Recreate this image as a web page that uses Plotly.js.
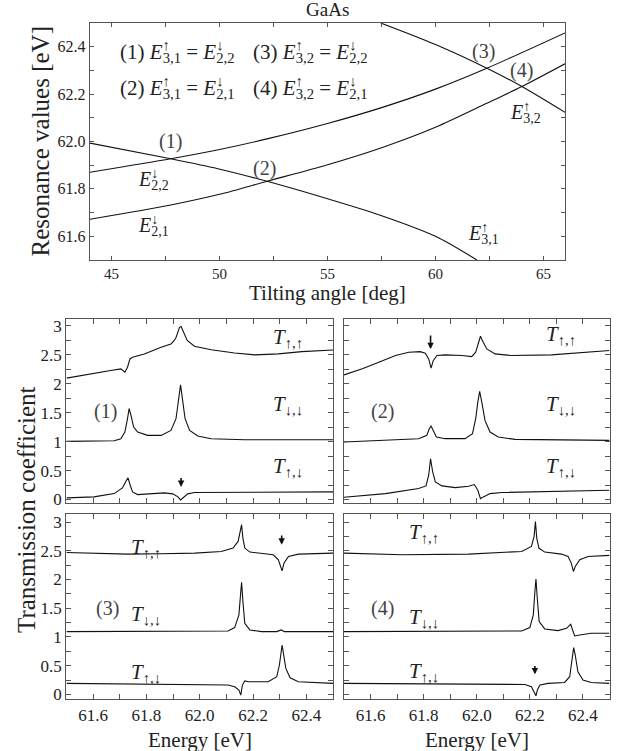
<!DOCTYPE html>
<html>
<head>
<meta charset="utf-8">
<script src="https://cdn.plot.ly/plotly-3.0.1.min.js"></script>
<style>html,body{margin:0;padding:0;background:#fff;}#chart{width:629px;height:751px;}</style>
</head>
<body>
<div id="chart"></div>
<script>
// ---------- Top plot: resonance values vs tilting angle ----------
const angle_E31 = [44, 47.74, 49.92, 52.2, 55.08, 57.54, 60, 61.92];
const res_E31   = [61.993, 61.927, 61.885, 61.832, 61.756, 61.686, 61.6, 61.5];
const angle_E22 = [44, 47.74, 50, 52.2, 55, 57.54, 60, 62.38, 66];
const res_E22   = [61.870, 61.927, 61.966, 62.011, 62.076, 62.144, 62.221, 62.309, 62.458];
const angle_E21 = [44, 47.74, 50, 52.2, 55, 57.54, 60, 62.35, 64, 66];
const res_E21   = [61.672, 61.732, 61.777, 61.832, 61.902, 61.975, 62.06, 62.16, 62.232, 62.328];
const angle_E32 = [57.46, 60, 62.38, 64, 66];
const res_E32   = [62.5, 62.409, 62.309, 62.232, 62.123];

// ---------- Panel (1) ----------
const p1_E_uu = [61.5, 61.603, 61.666, 61.704, 61.719, 61.729, 61.738, 61.748, 61.792, 61.855, 61.892, 61.903, 61.911, 61.917, 61.924, 61.93, 61.939, 61.953, 61.98, 62.043, 62.131, 62.207, 62.295, 62.383, 62.5];
const p1_T_uu = [2.098, 2.172, 2.23, 2.259, 2.20, 2.287, 2.43, 2.46, 2.517, 2.632, 2.69, 2.74, 2.80, 2.88, 2.977, 2.99, 2.89, 2.75, 2.65, 2.59, 2.534, 2.50, 2.517, 2.557, 2.586];
const p1_E_dd = [61.5, 61.603, 61.679, 61.704, 61.719, 61.729, 61.735, 61.742, 61.752, 61.767, 61.804, 61.855, 61.892, 61.911, 61.92, 61.928, 61.935, 61.945, 61.962, 61.993, 62.043, 62.169, 62.5];
const p1_T_dd = [1.006, 1.006, 1.017, 1.05, 1.167, 1.40, 1.57, 1.454, 1.253, 1.167, 1.109, 1.109, 1.195, 1.397, 1.741, 1.983, 1.741, 1.397, 1.195, 1.098, 1.052, 1.034, 1.034];
const p1_E_ud = [61.5, 61.603, 61.679, 61.71, 61.723, 61.731, 61.739, 61.748, 61.767, 61.817, 61.867, 61.899, 61.918, 61.928, 61.938, 61.955, 61.98, 62.106, 62.5];
const p1_T_ud = [0.029, 0.046, 0.103, 0.20, 0.316, 0.374, 0.247, 0.132, 0.086, 0.103, 0.115, 0.098, 0.046, -0.006, 0.034, 0.098, 0.121, 0.126, 0.132];

// ---------- Panel (2) ----------
const p2_E_uu = [61.5, 61.569, 61.631, 61.694, 61.744, 61.787, 61.806, 61.819, 61.828, 61.836, 61.85, 61.881, 61.944, 61.981, 61.996, 62.006, 62.014, 62.021, 62.038, 62.069, 62.131, 62.281, 62.5];
const p2_T_uu = [2.155, 2.259, 2.374, 2.489, 2.546, 2.557, 2.529, 2.431, 2.27, 2.40, 2.489, 2.50, 2.489, 2.471, 2.546, 2.718, 2.822, 2.747, 2.603, 2.517, 2.489, 2.50, 2.575];
const p2_E_dd = [61.5, 61.656, 61.781, 61.812, 61.821, 61.828, 61.835, 61.848, 61.881, 61.956, 61.984, 61.996, 62.004, 62.011, 62.019, 62.031, 62.05, 62.081, 62.144, 62.5];
const p2_T_dd = [0.994, 1.023, 1.052, 1.109, 1.224, 1.27, 1.195, 1.08, 1.052, 1.052, 1.138, 1.397, 1.684, 1.868, 1.684, 1.368, 1.167, 1.08, 1.04, 1.023];
const p2_E_ud = [61.5, 61.656, 61.781, 61.809, 61.819, 61.826, 61.834, 61.844, 61.869, 61.919, 61.969, 61.991, 62.004, 62.014, 62.025, 62.05, 62.094, 62.5];
const p2_T_ud = [0.04, 0.103, 0.19, 0.236, 0.42, 0.705, 0.477, 0.305, 0.236, 0.207, 0.23, 0.259, 0.161, 0.017, 0.046, 0.103, 0.121, 0.161];

// ---------- Panel (3) ----------
const p3_E_uu = [61.5, 61.603, 61.729, 61.855, 61.981, 62.081, 62.125, 62.144, 62.153, 62.157, 62.162, 62.169, 62.188, 62.232, 62.276, 62.295, 62.304, 62.309, 62.316, 62.333, 62.37, 62.5];
const p3_T_uu = [2.471, 2.459, 2.442, 2.448, 2.459, 2.488, 2.547, 2.663, 2.837, 2.953, 2.72, 2.547, 2.477, 2.459, 2.43, 2.343, 2.198, 2.151, 2.285, 2.401, 2.442, 2.459];
const p3_E_dd = [61.5, 61.981, 62.106, 62.131, 62.147, 62.153, 62.157, 62.162, 62.169, 62.188, 62.232, 62.289, 62.306, 62.318, 62.5];
const p3_T_dd = [1.093, 1.093, 1.105, 1.163, 1.384, 1.733, 1.953, 1.616, 1.238, 1.122, 1.093, 1.093, 1.122, 1.093, 1.093];
const p3_E_ud = [61.5, 61.855, 62.043, 62.106, 62.131, 62.147, 62.154, 62.16, 62.169, 62.182, 62.257, 62.289, 62.299, 62.306, 62.309, 62.314, 62.323, 62.339, 62.37, 62.5];
const p3_T_ud = [0.192, 0.18, 0.174, 0.163, 0.134, 0.076, -0.012, 0.163, 0.235, 0.221, 0.221, 0.308, 0.512, 0.802, 0.86, 0.715, 0.453, 0.29, 0.221, 0.192];

// ---------- Panel (4) ----------
const p4_E_uu = [61.5, 61.719, 61.969, 62.169, 62.206, 62.216, 62.221, 62.226, 62.234, 62.256, 62.319, 62.344, 62.356, 62.364, 62.371, 62.388, 62.419, 62.5];
const p4_T_uu = [2.459, 2.43, 2.442, 2.488, 2.576, 2.75, 3.01, 2.72, 2.547, 2.477, 2.442, 2.40, 2.285, 2.14, 2.227, 2.343, 2.40, 2.419];
const p4_E_dd = [61.5, 61.969, 62.169, 62.2, 62.213, 62.219, 62.223, 62.228, 62.235, 62.256, 62.306, 62.338, 62.354, 62.361, 62.369, 62.388, 62.431, 62.5];
const p4_T_dd = [1.093, 1.093, 1.105, 1.163, 1.384, 1.791, 2.01, 1.674, 1.267, 1.14, 1.11, 1.151, 1.221, 1.122, 1.017, 1.035, 1.064, 1.064];
const p4_E_ud = [61.5, 61.969, 62.181, 62.206, 62.216, 62.223, 62.229, 62.238, 62.269, 62.331, 62.35, 62.359, 62.365, 62.371, 62.381, 62.4, 62.431, 62.5];
const p4_T_ud = [0.192, 0.18, 0.174, 0.134, 0.047, -0.023, 0.087, 0.163, 0.192, 0.209, 0.308, 0.57, 0.814, 0.686, 0.395, 0.25, 0.209, 0.192];

// ---------- Tick values and labels ----------
const angleTickVals = [45, 47.5, 50, 52.5, 55, 57.5, 60, 62.5, 65];
const angleTickText = ['45', '', '50', '', '55', '', '60', '', '65'];
const resTickVals = [61.6, 61.7, 61.8, 61.9, 62.0, 62.1, 62.2, 62.3, 62.4];
const resTickText = ['61.6', '', '61.8', '', '62.0', '', '62.2', '', '62.4'];
const energyTickVals = [61.6, 61.7, 61.8, 61.9, 62.0, 62.1, 62.2, 62.3, 62.4];
const energyTickText = ['61.6', '', '61.8', '', '62.0', '', '62.2', '', '62.4'];
const transTickVals = [0, 0.25, 0.5, 0.75, 1, 1.25, 1.5, 1.75, 2, 2.25, 2.5, 2.75, 3];
const transTickText = ['0', '', '0.5', '', '1', '', '1.5', '', '2', '', '2.5', '', '3'];

const FONT = 'Liberation Serif';
const LINE = {color: '#111', width: 1.1};
const AX = '#555';

function tr(x, y, xa, ya, smooth) {
  const line = Object.assign({}, LINE);
  if (smooth) { line.shape = 'spline'; line.smoothing = 0.8; }
  return {x: x, y: y, xaxis: xa, yaxis: ya, type: 'scatter', mode: 'lines', line: line, hoverinfo: 'skip', showlegend: false};
}

const data = [
  tr(angle_E31, res_E31, 'x', 'y', true),
  tr(angle_E22, res_E22, 'x', 'y', true),
  tr(angle_E21, res_E21, 'x', 'y', true),
  tr(angle_E32, res_E32, 'x', 'y', true),
  tr(p1_E_uu, p1_T_uu, 'x2', 'y2'), tr(p1_E_dd, p1_T_dd, 'x2', 'y2'), tr(p1_E_ud, p1_T_ud, 'x2', 'y2'),
  tr(p2_E_uu, p2_T_uu, 'x3', 'y3'), tr(p2_E_dd, p2_T_dd, 'x3', 'y3'), tr(p2_E_ud, p2_T_ud, 'x3', 'y3'),
  tr(p3_E_uu, p3_T_uu, 'x4', 'y4'), tr(p3_E_dd, p3_T_dd, 'x4', 'y4'), tr(p3_E_ud, p3_T_ud, 'x4', 'y4'),
  tr(p4_E_uu, p4_T_uu, 'x5', 'y5'), tr(p4_E_dd, p4_T_dd, 'x5', 'y5'), tr(p4_E_ud, p4_T_ud, 'x5', 'y5')
];

function axis(extra) {
  return Object.assign({
    showline: true, mirror: 'allticks', linecolor: AX, linewidth: 1.3,
    ticks: 'inside', ticklen: 5, tickwidth: 1, tickcolor: AX,
    showgrid: false, zeroline: false, fixedrange: true,
    tickfont: {family: FONT, size: 17, color: '#222'}
  }, extra);
}

const L = [0.1057, 0.5294], R = [0.5469, 0.9690];
const U = [0.3302, 0.5752], D = [0.0692, 0.3156];

const layout = {
  width: 629, height: 751,
  margin: {l: 0, r: 0, t: 0, b: 0},
  paper_bgcolor: '#fff', plot_bgcolor: '#fff',
  showlegend: false,
  font: {family: FONT, color: '#222'},
  xaxis: axis({domain: [0.1431, 0.8983], range: [44, 66], anchor: 'y', tickvals: angleTickVals, ticktext: angleTickText, ticklen: 4, tickfont: {family: FONT, size: 15, color: '#222'}}),
  yaxis: axis({domain: [0.6538, 0.9694], range: [61.5, 62.5], anchor: 'x', tickvals: resTickVals, ticktext: resTickText, ticklen: 4, tickfont: {family: FONT, size: 16, color: '#222'}}),
  xaxis2: axis({domain: L, range: [61.5, 62.5], anchor: 'y2', tickvals: energyTickVals, ticktext: energyTickText, showticklabels: false}),
  yaxis2: axis({domain: U, range: [-0.06, 3.12], anchor: 'x2', tickvals: transTickVals, ticktext: transTickText}),
  xaxis3: axis({domain: R, range: [61.5, 62.5], anchor: 'y3', tickvals: energyTickVals, ticktext: energyTickText, showticklabels: false}),
  yaxis3: axis({domain: U, range: [-0.06, 3.12], anchor: 'x3', tickvals: transTickVals, ticktext: transTickText, showticklabels: false}),
  xaxis4: axis({domain: L, range: [61.5, 62.5], anchor: 'y4', tickvals: energyTickVals, ticktext: energyTickText}),
  yaxis4: axis({domain: D, range: [-0.08, 3.14], anchor: 'x4', tickvals: transTickVals, ticktext: transTickText}),
  xaxis5: axis({domain: R, range: [61.5, 62.5], anchor: 'y5', tickvals: energyTickVals, ticktext: energyTickText}),
  yaxis5: axis({domain: D, range: [-0.08, 3.14], anchor: 'x5', tickvals: transTickVals, ticktext: transTickText, showticklabels: false}),
  annotations: []
};

const A = layout.annotations;
function txt(text, x, y, xref, yref, size, extra) {
  A.push(Object.assign({text: text, x: x, y: y, xref: xref, yref: yref, showarrow: false,
    font: {family: FONT, size: size, color: '#222'}, xanchor: 'center', yanchor: 'middle'}, extra || {}));
}
function arrow(x, tip, tail, xr, yr) {
  A.push({text: '', x: x, y: tip, ax: x, ay: tail, xref: xr, yref: yr, axref: xr, ayref: yr,
    showarrow: true, arrowhead: 2, arrowsize: 0.8, arrowwidth: 1.6, arrowcolor: '#111', standoff: 0, startstandoff: 0});
}
// E with stacked spin arrow (superscript) and index pair (subscript)
function Esym(spin, idx, size) {
  const back = (0.7 * size * 0.5).toFixed(1);
  return '<i>E</i><sup><span style="letter-spacing:-' + back + 'px">' + spin + '</span></sup><sub>' + idx + '</sub>';
}

// titles
txt('GaAs', 0.5207, 0.9867, 'paper', 'paper', 19);
txt('Tilting angle [deg]', 0.5207, 0.6099, 'paper', 'paper', 21);
txt('Resonance values [eV]', 0.0636, 0.8116, 'paper', 'paper', 25, {textangle: -90});
txt('Transmission coefficient', 0.0413, 0.3222, 'paper', 'paper', 25, {textangle: -90});
txt('Energy [eV]', 0.3176, 0.0147, 'paper', 'paper', 21);
txt('Energy [eV]', 0.7580, 0.0147, 'paper', 'paper', 21);

// top plot equations
const EQ = 21;
txt('(1) ' + Esym('↑', '3,1', EQ) + ' = ' + Esym('↓', '2,2', EQ), 45.3, 62.381, 'x', 'y', EQ, {xanchor: 'left'});
txt('(2) ' + Esym('↑', '3,1', EQ) + ' = ' + Esym('↓', '2,1', EQ), 45.3, 62.228, 'x', 'y', EQ, {xanchor: 'left'});
txt('(3) ' + Esym('↑', '3,2', EQ) + ' = ' + Esym('↓', '2,2', EQ), 51.46, 62.381, 'x', 'y', EQ, {xanchor: 'left'});
txt('(4) ' + Esym('↑', '3,2', EQ) + ' = ' + Esym('↓', '2,1', EQ), 51.46, 62.228, 'x', 'y', EQ, {xanchor: 'left'});

// top plot curve labels
const GF = {font: {family: FONT, size: 20, color: '#444'}};
txt('(1)', 47.74, 62.0, 'x', 'y', 20, GF);
txt('(2)', 52.08, 61.886, 'x', 'y', 20, GF);
txt('(3)', 62.23, 62.38, 'x', 'y', 20, GF);
txt('(4)', 64.0, 62.30, 'x', 'y', 20, GF);
txt(Esym('↓', '2,2', 20), 46.92, 61.837, 'x', 'y', 20);
txt(Esym('↓', '2,1', 20), 46.92, 61.64, 'x', 'y', 20);
txt(Esym('↑', '3,1', 20), 62.23, 61.606, 'x', 'y', 20);
txt(Esym('↑', '3,2', 20), 64.15, 62.12, 'x', 'y', 20);

// bottom panel labels
const TUU = '<i>T</i><sub>↑,↑</sub>', TDD = '<i>T</i><sub>↓,↓</sub>', TUD = '<i>T</i><sub>↑,↓</sub>';
txt(TUU, 62.333, 2.80, 'x2', 'y2', 21); txt(TDD, 62.333, 1.63, 'x2', 'y2', 21); txt(TUD, 62.333, 0.56, 'x2', 'y2', 21);
txt('(1)', 61.647, 1.523, 'x2', 'y2', 20, GF);
txt(TUU, 62.319, 2.845, 'x3', 'y3', 21); txt(TDD, 62.319, 1.63, 'x3', 'y3', 21); txt(TUD, 62.319, 0.56, 'x3', 'y3', 21);
txt('(2)', 61.644, 1.523, 'x3', 'y3', 20, GF);
txt(TUU, 61.798, 2.547, 'x4', 'y4', 21); txt(TDD, 61.798, 1.384, 'x4', 'y4', 21); txt(TUD, 61.798, 0.366, 'x4', 'y4', 21);
txt('(3)', 61.653, 1.5, 'x4', 'y4', 20, GF);
txt(TUU, 61.8, 2.81, 'x5', 'y5', 21); txt(TDD, 61.8, 1.326, 'x5', 'y5', 21); txt(TUD, 61.8, 0.395, 'x5', 'y5', 21);
txt('(4)', 61.644, 1.488, 'x5', 'y5', 20, GF);

// arrows
arrow(61.93, 0.218, 0.40, 'x2', 'y2');
arrow(61.826, 2.60, 2.86, 'x3', 'y3');
arrow(62.3075, 2.605, 2.79, 'x4', 'y4');
arrow(62.219, 0.349, 0.52, 'x5', 'y5');

Plotly.newPlot('chart', data, layout, {staticPlot: true, displayModeBar: false});
</script>
</body>
</html>
